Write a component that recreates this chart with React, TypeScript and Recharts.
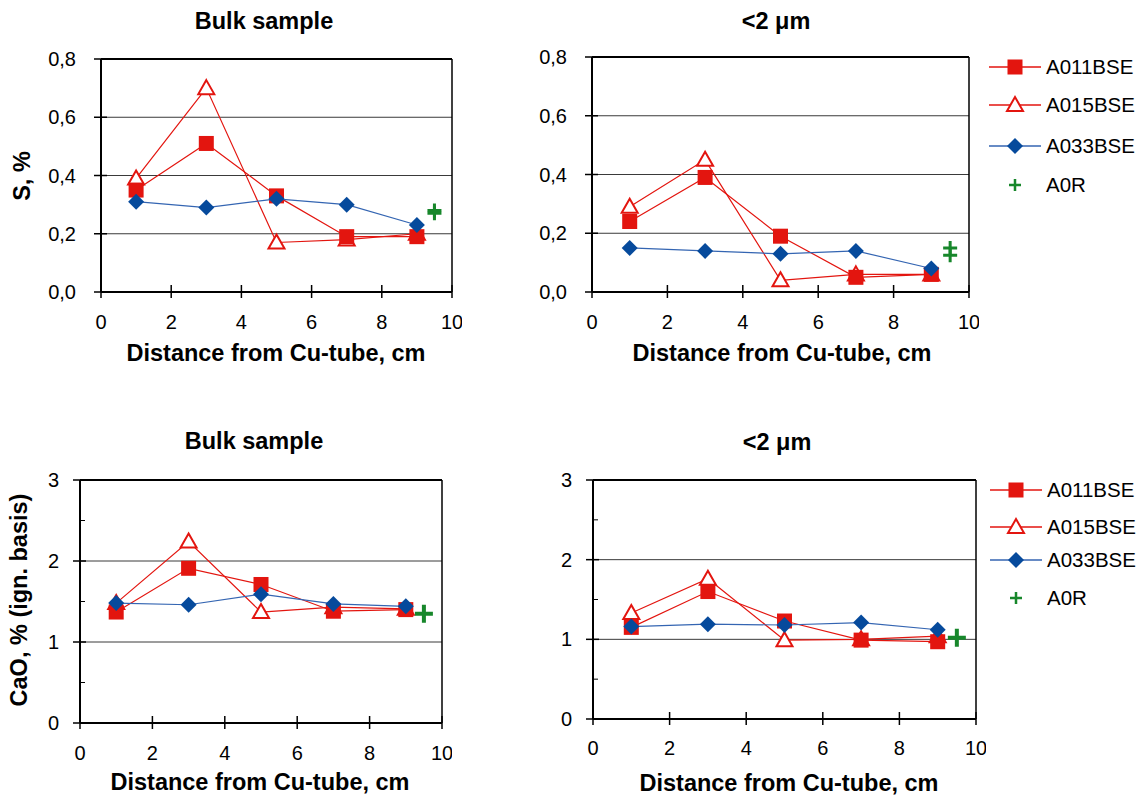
import React from 'react';
import { ScatterChart, Scatter, XAxis, YAxis, ReferenceLine } from 'recharts';

// distance from the Cu-tube (cm) for the sampled sections
const distance = [1, 3, 5, 7, 9];
// reference material plotted just past the last section
const refDistance = 9.5;
const xTicks = [0, 2, 4, 6, 8, 10];

// S, % — bulk sample
const sBulkA011 = [0.35, 0.51, 0.33, 0.19, 0.19];
const sBulkA015 = [0.39, 0.7, 0.17, 0.18, 0.2];
const sBulkA033 = [0.31, 0.29, 0.32, 0.3, 0.23];
const sBulkA0R = [0.27, 0.28];

// S, % — <2 µm fraction
const sFineA011 = [0.24, 0.39, 0.19, 0.05, 0.06];
const sFineA015 = [0.29, 0.45, 0.04, 0.06, 0.06];
const sFineA033 = [0.15, 0.14, 0.13, 0.14, 0.08];
const sFineA0R = [0.15, 0.125];

// CaO, % (ign. basis) — bulk sample
const caoBulkA011 = [1.37, 1.91, 1.71, 1.38, 1.4];
const caoBulkA015 = [1.48, 2.24, 1.37, 1.43, 1.41];
const caoBulkA033 = [1.48, 1.46, 1.59, 1.47, 1.44];
const caoBulkA0R = [1.35];

// CaO, % (ign. basis) — <2 µm fraction
const caoFineA011 = [1.15, 1.6, 1.23, 0.99, 0.97];
const caoFineA015 = [1.33, 1.76, 0.99, 1.0, 1.04];
const caoFineA033 = [1.16, 1.19, 1.18, 1.21, 1.12];
const caoFineA0R = [1.02];

const sTicks = [0, 0.2, 0.4, 0.6, 0.8];
const caoTicks = [0, 0.5, 1, 1.5, 2, 2.5, 3];
const caoLabelled = [0, 1, 2, 3];

const seriesNames = ['A011BSE', 'A015BSE', 'A033BSE', 'A0R'];

const FONT = '"Liberation Sans", Arial, Helvetica, sans-serif';
const RED = '#e3150f';
const BLUE_LINE = '#3465b2';
const BLUE_FILL = '#064a9c';
const GREEN = '#17872b';

type Pt = { x: number; y: number };
const pts = (ys: number[]): Pt[] => ys.map((y, i) => ({ x: distance[i], y }));
const refPts = (ys: number[]): Pt[] => ys.map((y) => ({ x: refDistance, y }));

// marker shapes
const SquareDot = ({ cx, cy }: any) => (
  <rect x={cx - 7.5} y={cy - 7.5} width={15} height={15} fill={RED} />
);
const TriangleDot = ({ cx, cy }: any) => (
  <path
    d={`M${cx},${cy - 8} L${cx + 8},${cy + 6} L${cx - 8},${cy + 6} Z`}
    fill="#fff"
    stroke={RED}
    strokeWidth={2}
  />
);
const DiamondDot = ({ cx, cy }: any) => (
  <path d={`M${cx},${cy - 8} L${cx + 8},${cy} L${cx},${cy + 8} L${cx - 8},${cy} Z`} fill={BLUE_FILL} />
);
const makePlus = (r: number, sw: number) => ({ cx, cy }: any) => (
  <path d={`M${cx - r},${cy} H${cx + r} M${cx},${cy - r} V${cy + r}`} stroke={GREEN} strokeWidth={sw} fill="none" />
);

type Box = { left: number; top: number; right: number; bottom: number };

type PanelProps = {
  box: Box;
  yMax: number;
  yTicks: number[];
  labelled: number[];
  fmt: (v: number) => string;
  labelGap: number;
  xLabelGap: number;
  plus: [number, number];
  a011: number[];
  a015: number[];
  a033: number[];
  a0r: number[];
};

function Panel({ box, yMax, yTicks, labelled, fmt, labelGap, xLabelGap, plus, a011, a015, a033, a0r }: PanelProps) {
  const yw = 60;
  const pad = 10;
  const xh = 50;
  const w = yw + (box.right - box.left) + pad;
  const h = pad + (box.bottom - box.top) + xh;
  const grid = labelled.filter((v) => v > 0 && v < yMax);
  const PlusDot = makePlus(plus[0], plus[1]);

  const XTick = ({ x, y, payload }: any) => (
    <g>
      <line x1={x} x2={x} y1={y - 7} y2={y + 6} stroke="#000" strokeWidth={1.5} />
      <text x={x} y={y + xLabelGap} dy="0.35em" textAnchor="middle" fontFamily={FONT} fontSize={20} fill="#000">
        {payload.value}
      </text>
    </g>
  );

  const YTick = ({ x, y, payload }: any) => {
    const major = labelled.some((v) => Math.abs(v - payload.value) < 1e-6);
    return (
      <g>
        {major ? (
          <line x1={x - 7} x2={x + 6} y1={y} y2={y} stroke="#000" strokeWidth={1.5} />
        ) : (
          <line x1={x} x2={x + 5} y1={y} y2={y} stroke="#000" strokeWidth={1} />
        )}
        {major && (
          <text x={x - labelGap} y={y} dy="0.35em" textAnchor="end" fontFamily={FONT} fontSize={20} fill="#000">
            {fmt(payload.value)}
          </text>
        )}
      </g>
    );
  };

  return (
    <div style={{ position: 'absolute', left: box.left - yw, top: box.top - pad }}>
      <ScatterChart width={w} height={h} margin={{ top: pad, right: pad, bottom: 0, left: 0 }}>
        <XAxis
          type="number"
          dataKey="x"
          domain={[0, 10]}
          ticks={xTicks}
          interval={0}
          height={xh}
          axisLine={{ stroke: '#000', strokeWidth: 2 }}
          tickLine={false}
          tickSize={0}
          tickMargin={0}
          tick={(p: any) => <XTick {...p} />}
        />
        <YAxis
          type="number"
          dataKey="y"
          domain={[0, yMax]}
          ticks={yTicks}
          interval={0}
          width={yw}
          axisLine={{ stroke: '#000', strokeWidth: 2 }}
          tickLine={false}
          tickSize={0}
          tickMargin={0}
          tick={(p: any) => <YTick {...p} />}
        />
        {grid.map((v) => (
          <ReferenceLine key={v} y={v} stroke="#3a3a3a" strokeWidth={1} />
        ))}
        <ReferenceLine y={yMax} stroke="#000" strokeWidth={2} />
        <ReferenceLine x={10} stroke="#000" strokeWidth={1.5} />
        {/* open triangles sit underneath the filled squares */}
        <Scatter
          name="A015BSE"
          data={pts(a015)}
          line={{ stroke: RED, strokeWidth: 1.2 }}
          shape={TriangleDot}
          isAnimationActive={false}
        />
        <Scatter
          name="A011BSE"
          data={pts(a011)}
          line={{ stroke: RED, strokeWidth: 1.2 }}
          shape={SquareDot}
          isAnimationActive={false}
        />
        <Scatter
          name="A033BSE"
          data={pts(a033)}
          line={{ stroke: BLUE_LINE, strokeWidth: 1.2 }}
          shape={DiamondDot}
          isAnimationActive={false}
        />
        <Scatter name="A0R" data={refPts(a0r)} shape={PlusDot} isAnimationActive={false} />
      </ScatterChart>
    </div>
  );
}

const legendMarkers = [
  { line: RED, Dot: SquareDot },
  { line: RED, Dot: TriangleDot },
  { line: BLUE_LINE, Dot: DiamondDot },
  { line: null, Dot: null },
];

function SeriesLegend({ left, rows }: { left: number; rows: number[] }) {
  return (
    <>
      {seriesNames.map((name, i) => {
        const m = legendMarkers[i];
        return (
          <div key={name} style={{ position: 'absolute', left, top: rows[i] - 12, height: 24, display: 'flex', alignItems: 'center' }}>
            <svg width={56} height={24}>
              {m.line && <line x1={2} x2={54} y1={12} y2={12} stroke={m.line} strokeWidth={1.5} />}
              {m.Dot ? (
                <m.Dot cx={28} cy={12} />
              ) : (
                <path d="M22,12 H34 M28,6 V18" stroke={GREEN} strokeWidth={2.5} fill="none" />
              )}
            </svg>
            <span style={{ fontFamily: FONT, fontSize: 20.5, marginLeft: 3, color: '#000' }}>{name}</span>
          </div>
        );
      })}
    </>
  );
}

const textAt = (x: number, y: number, rotate = false): React.CSSProperties => ({
  position: 'absolute',
  left: x,
  top: y,
  transform: `translate(-50%, -50%)${rotate ? ' rotate(-90deg)' : ''}`,
  fontFamily: FONT,
  fontWeight: 'bold',
  fontSize: 23.5,
  whiteSpace: 'nowrap',
  lineHeight: 1,
  color: '#000',
});

const comma = (v: number) => v.toFixed(1).replace('.', ',');
const plain = (v: number) => String(v);

export default function App() {
  return (
    <div style={{ position: 'absolute', left: 0, top: 0, width: 1139, height: 798, background: '#fff', overflow: 'hidden' }}>
      <div style={textAt(264, 22)}>Bulk sample</div>
      <div style={textAt(776, 22)}>{'<2 μm'}</div>
      <div style={textAt(254, 442)}>Bulk sample</div>
      <div style={textAt(777, 443)}>{'<2 μm'}</div>

      <div style={textAt(23, 176, true)}>S, %</div>
      <div style={textAt(20, 600, true)}>CaO, % (ign. basis)</div>

      <div style={textAt(276, 354)}>Distance from Cu-tube, cm</div>
      <div style={textAt(782, 354)}>Distance from Cu-tube, cm</div>
      <div style={textAt(260, 783)}>Distance from Cu-tube, cm</div>
      <div style={textAt(789, 784)}>Distance from Cu-tube, cm</div>

      <Panel
        box={{ left: 101, top: 59, right: 452, bottom: 292 }}
        yMax={0.8}
        yTicks={sTicks}
        labelled={sTicks}
        fmt={comma}
        labelGap={25}
        xLabelGap={30}
        plus={[7, 3]}
        a011={sBulkA011}
        a015={sBulkA015}
        a033={sBulkA033}
        a0r={sBulkA0R}
      />
      <Panel
        box={{ left: 592, top: 57, right: 969, bottom: 292 }}
        yMax={0.8}
        yTicks={sTicks}
        labelled={sTicks}
        fmt={comma}
        labelGap={25}
        xLabelGap={30}
        plus={[7, 3]}
        a011={sFineA011}
        a015={sFineA015}
        a033={sFineA033}
        a0r={sFineA0R}
      />
      <Panel
        box={{ left: 80, top: 480, right: 442, bottom: 723 }}
        yMax={3}
        yTicks={caoTicks}
        labelled={caoLabelled}
        fmt={plain}
        labelGap={21}
        xLabelGap={30}
        plus={[9, 4]}
        a011={caoBulkA011}
        a015={caoBulkA015}
        a033={caoBulkA033}
        a0r={caoBulkA0R}
      />
      <Panel
        box={{ left: 593, top: 480, right: 976, bottom: 719 }}
        yMax={3}
        yTicks={caoTicks}
        labelled={caoLabelled}
        fmt={plain}
        labelGap={21}
        xLabelGap={29}
        plus={[9, 4]}
        a011={caoFineA011}
        a015={caoFineA015}
        a033={caoFineA033}
        a0r={caoFineA0R}
      />

      <SeriesLegend left={987} rows={[67, 105, 146, 185]} />
      <SeriesLegend left={988} rows={[490, 527, 560, 598]} />
    </div>
  );
}
